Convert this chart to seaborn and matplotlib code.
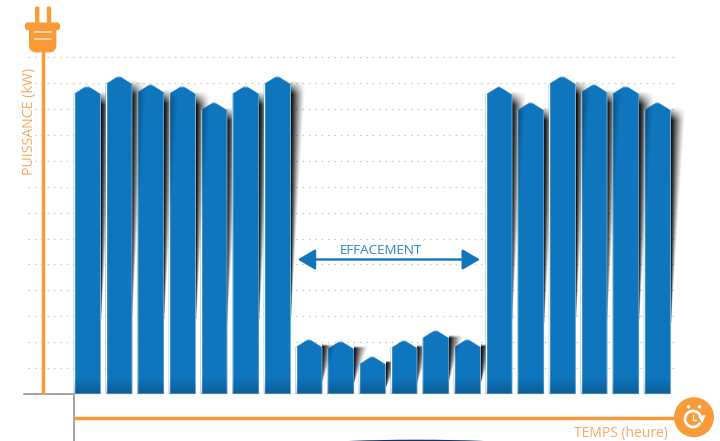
import numpy as np
import pandas as pd
import matplotlib
matplotlib.use("Agg")
import matplotlib.pyplot as plt
import seaborn as sns
from matplotlib.patches import Circle, Ellipse, FancyBboxPatch, Polygon, Arc
from matplotlib.transforms import Affine2D

# Power drawn in each period, in grid units of kW
hours = list(range(19))
power = [11.9, 12.28, 11.96, 11.9, 11.27, 11.9, 12.28,
         2.12, 2.05, 1.46, 2.08, 2.47, 2.12,
         11.87, 11.27, 12.28, 11.96, 11.9, 11.27]
grid_levels = list(range(1, 14))

ORANGE = "#F89B38"
ORANGE_TEXT = "#F9A860"
BLUE = "#0F75BC"
GREY = "#A3A3A3"
LABEL_FONT = ["Liberation Sans Narrow", "Open Sans", "DejaVu Sans"]

W, H = 720, 441
PITCH = 31.67          # px per period
UNIT = 25.9            # px per kW unit
X0, Y0 = 87.2, 393.9   # px position of the first bar centre and of the base line
BAR_W = 0.84
ROOF = 8.3 / UNIT
SHADOW_W = 15.0 / PITCH

sns.set_theme(style="white")
plt.rcParams["font.family"] = ["Open Sans", "DejaVu Sans"]

fig = plt.figure(figsize=(W / 100, H / 100), dpi=100, facecolor="white")
ax = fig.add_axes([0, 0, 1, 1])
px = Affine2D().scale(1, -1).translate(0, H)   # top-left pixel coordinates for decoration

df = pd.DataFrame({"hour": hours, "power": power})
sns.barplot(data=df, x="hour", y="power", color=BLUE, saturation=1,
            width=BAR_W, ax=ax, zorder=3, errorbar=None, legend=False)
bars = list(ax.patches)

xlim = (-X0 / PITCH, (W - X0) / PITCH)
ylim = (-(H - Y0) / UNIT, Y0 / UNIT)

# dotted horizontal guides
ax.hlines(grid_levels, (28 - X0) / PITCH, (674 - X0) / PITCH, color="#c4c4c4",
          lw=0.9, linestyle=(0, (1.1, 4.0)), zorder=1)


def shadow_alpha(strength):
    """Soft wedge: dark by the bar edge, fading outward and narrowing downward."""
    v, u = np.mgrid[0:1:240j, 0:1:80j]
    width = np.clip(1 - v, 1e-3, 1)
    a = np.clip(1 - u / width, 0, 1) ** 1.25
    a *= np.clip(v / 0.06, 0, 1)
    rgba = np.zeros(a.shape + (4,))
    rgba[..., 3] = a * strength
    return rgba


outlines = []
for bar in bars:
    left, right, top = bar.get_x(), bar.get_x() + bar.get_width(), bar.get_height()
    mid = (left + right) / 2
    shoulder = top - ROOF
    pentagon = [(left, 0), (left, shoulder), (mid, top), (right, shoulder), (right, 0)]
    outline = Polygon(pentagon, closed=True, transform=ax.transData)
    bar.set_clip_path(outline)
    outlines.append(outline)

    # darker foot of the bar
    foot = np.zeros((40, 2, 4))
    foot[..., 3] = np.linspace(0, 0.2, 40)[:, None]
    im = ax.imshow(foot, extent=(left, right, 0, 17 / UNIT), origin="upper",
                   aspect="auto", zorder=3.2, interpolation="bilinear")
    im.set_clip_path(outline)
    ax.add_patch(Polygon(pentagon, closed=True, fc="none", ec="#4f9bd3", lw=0.35,
                         alpha=0.7, zorder=3.4))

for i, bar in enumerate(bars):
    right = bar.get_x() + bar.get_width()
    shoulder = bar.get_height() - ROOF
    end = shoulder * 0.25
    extent = (right, right + SHADOW_W, end, shoulder + 3 / UNIT)
    ax.imshow(shadow_alpha(1.0), extent=extent, origin="upper", aspect="auto",
              zorder=2, interpolation="bilinear")
    # the same shadow falling across a shorter neighbour
    if i + 1 < len(power) and power[i + 1] < power[i] and power[i + 1] > end:
        im = ax.imshow(shadow_alpha(0.6), extent=extent, origin="upper", aspect="auto",
                       zorder=3.3, interpolation="bilinear")
        im.set_clip_path(outlines[i + 1])

ax.set_xlim(*xlim)
ax.set_ylim(*ylim)
ax.axis("off")

# grey corner of the axes
ax.plot([24, 74, 74], [394, 394, 441], color=GREY, lw=1.4, transform=px, zorder=4,
        solid_joinstyle="miter", clip_on=False)

# orange axis lines
ax.plot([42.7, 42.7], [40, 394], color=ORANGE, lw=2.5, transform=px, zorder=4,
        solid_capstyle="butt")
ax.plot([74, 690], [417.5, 417.5], color=ORANGE, lw=2.5, transform=px, zorder=4,
        solid_capstyle="butt")

# plug at the top of the power axis
for cx in (37.2, 49):
    ax.add_patch(FancyBboxPatch((cx - 1.0, 7.8), 2.0, 14, boxstyle="round,pad=1.2,rounding_size=1.2",
                                fc=ORANGE, ec="none", transform=px, zorder=5))
ax.add_patch(FancyBboxPatch((27.5, 25), 30, 2.6, boxstyle="round,pad=2.6,rounding_size=3",
                            fc=ORANGE, ec="none", transform=px, zorder=5))
ax.add_patch(FancyBboxPatch((36, 31), 13.4, 14.5, boxstyle="round,pad=7,rounding_size=7.5",
                            fc=ORANGE, ec="none", transform=px, zorder=5))
for y in (32.2, 39.4):
    ax.plot([34.2, 51.7], [y, y], color="#FDE3C6", lw=1.1, transform=px, zorder=6,
            solid_capstyle="butt")

# clock at the end of the time axis
ax.add_patch(Circle((694, 417.2), 20, fc=ORANGE, ec="none", transform=px, zorder=5))
ax.add_patch(Arc((693, 419), 16, 16, theta1=25, theta2=340, ec="white", lw=2.0,
                 transform=px, zorder=6))
ax.plot([693, 693, 696], [414.5, 419.5, 419.5], color="white", lw=1.0, transform=px, zorder=6)
ax.add_patch(Polygon([(698, 416.5), (705.5, 415), (702.5, 423)], fc="white", ec="none",
                     transform=px, zorder=6))
for cx in (688.5, 699.5):
    ax.add_patch(Circle((cx, 406.8), 1.7, fc="white", ec="none", transform=px, zorder=6))

# sliver of a dark shape at the lower edge of the frame
ax.add_patch(Ellipse((416.5, 443.5), 180, 7.6, fc="#14336f", ec="none", transform=px, zorder=2))

# load-shedding span
ax.annotate("", xy=(297.7, 259.5), xytext=(480, 259.5), xycoords=px, textcoords=px,
            arrowprops=dict(arrowstyle="<|-|>,head_length=0.77,head_width=0.45", color=BLUE,
                            lw=1.7, shrinkA=0, shrinkB=0, mutation_scale=14), zorder=6)
ax.text(381, 251, "EFFACEMENT", color="#2A84C6", fontsize=9.6, ha="center", va="center",
        family=LABEL_FONT, transform=px, zorder=6)

ax.text(29, 121, "PUISSANCE (kW)", color=ORANGE_TEXT, fontsize=10.2, rotation=90,
        ha="center", va="center", family=LABEL_FONT, transform=px, zorder=6)
ax.text(620.5, 433, "TEMPS (heure)", color=ORANGE_TEXT, fontsize=10, ha="center",
        va="center", family=LABEL_FONT, transform=px, zorder=6)

fig.savefig("out.png", dpi=100)
